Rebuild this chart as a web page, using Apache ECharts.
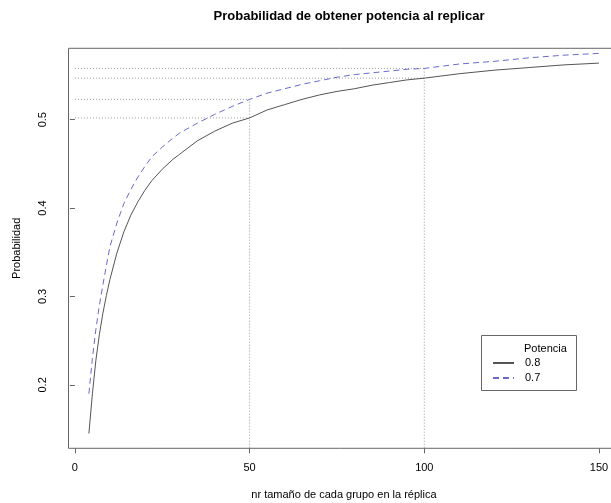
<!DOCTYPE html>
<html>
<head>
<meta charset="utf-8">
<script src="https://cdn.jsdelivr.net/npm/echarts@6/dist/echarts.min.js"></script>
<style>
html,body{margin:0;padding:0;background:#fff;}
#chart{width:611px;height:503px;}
</style>
</head>
<body>
<div id="chart"></div>
<script>
// ---- data ----
const sizes = [4,5,6,7,8,9,10,12,14,16,18,20,22,25,28,30,35,40,45,50,55,60,65,70,75,80,85,90,95,100,110,120,130,140,150];
const pot08 = [0.145,0.190,0.228,0.257,0.281,0.301,0.319,0.349,0.373,0.392,0.407,0.420,0.431,0.444,0.455,0.461,0.476,0.487,0.496,0.502,0.511,0.517,0.523,0.528,0.532,0.535,0.539,0.542,0.545,0.547,0.552,0.556,0.559,0.562,0.564];
const pot07 = [0.190,0.230,0.263,0.290,0.313,0.335,0.356,0.383,0.405,0.421,0.435,0.447,0.458,0.469,0.479,0.485,0.496,0.506,0.515,0.523,0.530,0.535,0.540,0.544,0.548,0.551,0.553,0.555,0.557,0.558,0.563,0.566,0.570,0.573,0.575];
const refSizes = [50, 100];
const xTicks = [0, 50, 100, 150];
const yTicks = [0.2, 0.3, 0.4, 0.5];
const seriesNames = ['0.8', '0.7'];
const legendTitle = 'Potencia';
const titleText = 'Probabilidad de obtener potencia al replicar';
const xName = 'nr tamaño de cada grupo en la réplica';
const yName = 'Probabilidad';

// R-style 4% axis extension
const xMinD = Math.min(...sizes), xMaxD = Math.max(...sizes);
const yMinD = Math.min(...pot08), yMaxD = Math.max(...pot08);
const xExt = (xMaxD - xMinD) * 0.04, yExt = (yMaxD - yMinD) * 0.04;

const FONT = 'Liberation Sans, Arial, Helvetica, sans-serif';
const chart = echarts.init(document.getElementById('chart'), null, {renderer: 'canvas'});

function valAt(arr, x) { return arr[sizes.indexOf(x)]; }

const series = [
  {
    name: seriesNames[0], type: 'line', data: sizes.map((s, i) => [s, pot08[i]]),
    symbol: 'none', lineStyle: {color: '#555', width: 1, type: 'solid'}, itemStyle: {color: '#555'}, z: 3
  },
  {
    name: seriesNames[1], type: 'line', data: sizes.map((s, i) => [s, pot07[i]]),
    symbol: 'none', lineStyle: {color: '#6a6acd', width: 1, type: [6, 4]}, itemStyle: {color: '#6a6acd'}, z: 3
  }
];
const dotStyle = {color: '#999', width: 1, type: [1, 2]};
refSizes.forEach(r => {
  [pot08, pot07].forEach(arr => {
    const v = valAt(arr, r);
    series.push({type: 'line', data: [[0, v], [r, v]], symbol: 'none', silent: true, lineStyle: dotStyle, z: 1});
  });
  const top = Math.max(valAt(pot08, r), valAt(pot07, r));
  series.push({type: 'line', data: [[r, 0], [r, top]], symbol: 'none', silent: true, lineStyle: dotStyle, z: 1});
});

const GL = 68.5, GT = 48.3, GB = 448.3, GW = 550.9;

chart.setOption({
  animation: false,
  backgroundColor: '#fff',
  title: {
    text: titleText, left: 344, top: 5, textAlign: 'center',
    textStyle: {fontFamily: FONT, fontSize: 13, fontWeight: 'bold', color: '#000'}
  },
  grid: {left: GL, width: GW, top: GT, height: GB - GT, show: false, outerBoundsMode: 'none', containLabel: false},
  legend: {
    data: seriesNames, orient: 'vertical', left: 492, top: 357.5, padding: 0,
    itemWidth: 21, itemHeight: 11, itemGap: 4,
    itemStyle: {opacity: 0},
    textStyle: {fontFamily: FONT, fontSize: 11, color: '#000', padding: [0, 0, 0, 6]}
  },
  xAxis: {
    type: 'value', min: xMinD - xExt, max: xMaxD + xExt,
    name: xName, nameLocation: 'middle', nameGap: 41,
    nameTextStyle: {fontFamily: FONT, fontSize: 11, color: '#000'},
    axisLine: {show: false},
    axisTick: {show: true, length: 5, lineStyle: {color: '#666'}, customValues: xTicks},
    axisLabel: {fontFamily: FONT, fontSize: 11, color: '#000', margin: 14, customValues: xTicks},
    splitLine: {show: false}
  },
  yAxis: {
    type: 'value', min: yMinD - yExt, max: yMaxD + yExt,
    name: yName, nameLocation: 'middle', nameGap: 46, nameRotate: 90,
    nameTextStyle: {fontFamily: FONT, fontSize: 11, color: '#000'},
    axisLine: {show: false},
    axisTick: {show: true, length: 5, lineStyle: {color: '#666'}, customValues: yTicks},
    axisLabel: {fontFamily: FONT, fontSize: 11, color: '#000', margin: 20, rotate: 90, customValues: yTicks,
      formatter: v => v.toFixed(1)},
    splitLine: {show: false}
  },
  graphic: [
    {type: 'polyline', shape: {points: [[620, GT], [GL, GT], [GL, GB], [620, GB]]}, style: {fill: 'none', stroke: '#666', lineWidth: 1}, silent: true, z: 10},
    {type: 'rect', shape: {x: 481.5, y: 335.5, width: 95, height: 55}, style: {fill: 'none', stroke: '#666', lineWidth: 1}, silent: true},
    {type: 'text', left: 524, top: 343, style: {text: legendTitle, font: '11px ' + FONT, fill: '#000'}, silent: true}
  ],
  series: series
});
</script>
</body>
</html>
